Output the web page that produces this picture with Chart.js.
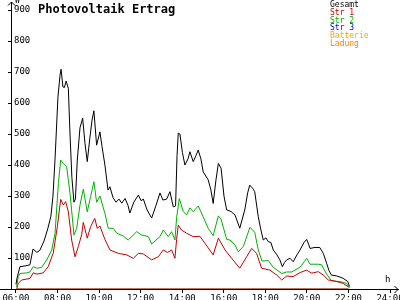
<!DOCTYPE html>
<html>
<head>
<meta charset="utf-8">
<script src="https://cdn.jsdelivr.net/npm/chart.js@4"></script>
<style>
  body { margin: 0; background: #fff; }
  #wrap { position: relative; width: 400px; height: 300px; overflow: hidden; }
  #wrap div { position: absolute; font-family: "DejaVu Sans Mono", monospace; white-space: nowrap; }
  #title { left: 38px; top: 2px; font-size: 12px; font-weight: bold; }
  #legend { left: 330px; top: 1px; font-size: 8px; line-height: 7.8px; }
  #unitW { left: 15px; top: -4px; font-size: 8px; }
  #unitH { left: 385px; top: 274px; font-size: 9px; }
</style>
</head>
<body>
<div id="wrap">
  <canvas id="pv" width="400" height="300"></canvas>
  <div id="title">Photovoltaik Ertrag</div>
  <div id="unitW">W</div>
  <div id="unitH">h</div>
  <div id="legend"></div>
</div>
<script>
// Uhrzeit in Stunden, Leistung in W
var gesamtTime = [6.00, 6.05, 6.19, 6.48, 6.67, 6.82, 7.01, 7.15, 7.35, 7.54, 7.68, 7.78, 7.88, 8.02, 8.12, 8.17, 8.26, 8.33, 8.41, 8.52,
  8.60, 8.69, 8.79, 8.86, 8.95, 9.08, 9.21, 9.32, 9.43, 9.56, 9.66, 9.75, 9.88, 10.04, 10.14, 10.28, 10.43, 10.52, 10.67, 10.81,
  10.96, 11.09, 11.25, 11.39, 11.48, 11.67, 11.89, 12.02, 12.13, 12.31, 12.53, 12.74, 12.93, 13.07, 13.25, 13.41, 13.57, 13.68, 13.75, 13.81,
  13.89, 14.01, 14.13, 14.28, 14.37, 14.53, 14.66, 14.77, 14.90, 15.01, 15.25, 15.38, 15.49, 15.62, 15.74, 15.87, 16.01, 16.14, 16.35, 16.54,
  16.77, 17.01, 17.15, 17.25, 17.39, 17.49, 17.66, 17.79, 17.90, 18.03, 18.14, 18.27, 18.38, 18.56, 18.70, 18.82, 18.92, 19.03, 19.19, 19.34,
  19.52, 19.67, 19.86, 19.99, 20.08, 20.15, 20.39, 20.62, 20.79, 20.95, 21.06, 21.18, 21.44, 21.73, 21.97, 22.05];
var gesamtW = [15, 35, 72, 75, 78, 129, 118, 125, 155, 197, 235, 300, 420, 620, 690, 709, 652, 650, 671, 647,
  500, 360, 280, 290, 416, 520, 551, 470, 411, 490, 545, 575, 464, 507, 460, 400, 319, 330, 295, 280,
  290, 277, 292, 270, 245, 280, 303, 285, 290, 255, 229, 270, 310, 287, 290, 314, 265, 268, 430, 503,
  500, 440, 400, 420, 443, 411, 430, 448, 420, 378, 352, 320, 276, 350, 405, 390, 300, 255, 250, 239,
  196, 255, 310, 335, 325, 314, 233, 190, 158, 165, 153, 150, 126, 110, 94, 72, 85, 94, 99, 88,
  110, 126, 150, 160, 145, 131, 134, 134, 115, 83, 60, 45, 42, 35, 24, 8];

var str1Time = [6.03, 6.11, 6.27, 6.67, 6.83, 7.00, 7.31, 7.55, 7.79, 7.99, 8.15, 8.28, 8.39, 8.52, 8.68, 8.84, 9.00, 9.16, 9.24, 9.43,
  9.59, 9.79, 9.91, 10.04, 10.28, 10.52, 10.92, 11.33, 11.65, 11.89, 12.13, 12.53, 12.85, 13.09, 13.29, 13.49, 13.65, 13.73, 13.81, 13.97,
  14.21, 14.53, 14.85, 15.10, 15.49, 15.74, 16.06, 16.38, 16.77, 17.10, 17.34, 17.58, 17.82, 18.22, 18.55, 18.79, 19.03, 19.34, 19.67, 19.99,
  20.23, 20.55, 20.79, 21.03, 21.27, 21.75, 21.99];
var str1W = [0, 18, 29, 34, 52, 48, 52, 72, 115, 201, 289, 271, 282, 249, 158, 104, 137, 175, 215, 164,
  201, 228, 196, 203, 160, 126, 115, 110, 99, 115, 113, 94, 104, 126, 118, 126, 99, 160, 206, 190,
  180, 169, 170, 147, 110, 164, 126, 99, 67, 104, 131, 115, 67, 61, 45, 29, 42, 40, 53, 61,
  51, 56, 45, 29, 27, 18, 7];

var str2Time = [6.03, 6.11, 6.19, 6.51, 6.67, 6.83, 7.00, 7.24, 7.48, 7.72, 7.88, 8.04, 8.15, 8.28, 8.44, 8.60, 8.79, 8.92, 9.08, 9.24,
  9.43, 9.59, 9.75, 9.88, 10.04, 10.28, 10.44, 10.68, 10.85, 11.16, 11.40, 11.81, 12.02, 12.37, 12.53, 12.93, 13.09, 13.33, 13.49, 13.65,
  13.73, 13.86, 14.05, 14.21, 14.37, 14.53, 14.77, 15.01, 15.25, 15.49, 15.74, 15.87, 16.14, 16.30, 16.54, 16.70, 16.94, 17.26, 17.49, 17.66,
  17.84, 18.14, 18.38, 18.79, 19.03, 19.27, 19.67, 19.99, 20.15, 20.55, 20.71, 20.95, 21.19, 21.59, 21.91, 22.05];
var str2W = [7, 40, 50, 52, 55, 72, 67, 70, 94, 126, 180, 341, 416, 405, 394, 309, 174, 196, 271, 322,
  249, 298, 346, 280, 300, 244, 196, 196, 180, 171, 158, 185, 175, 169, 145, 169, 190, 169, 185, 158,
  230, 292, 250, 239, 262, 249, 268, 233, 196, 172, 236, 225, 160, 158, 142, 120, 137, 199, 183, 126,
  90, 92, 70, 50, 55, 55, 70, 99, 80, 80, 78, 48, 26, 24, 18, 3];

// Str 3, Batterie und Ladung liefern heute nichts
var nullTime = [6, 22];
var str3W = [0, 0];
var batterieW = [0, 0];
var ladungW = [0, 0];

var xTicks = [6, 8, 10, 12, 14, 16, 18, 20, 22, 24];
var yTicks = [0, 100, 200, 300, 400, 500, 600, 700, 800, 900];

var seriesNames = ['Gesamt', 'Str 1', 'Str 2', 'Str 3', 'Batterie', 'Ladung'];
var seriesColors = ['#000000', '#c00000', '#00b000', '#0000ff', '#ffa500', '#ff8000'];

function points(t, w) {
    return t.map(function (h, i) { return {x: h, y: w[i]}; });
}

function pad2(n) { return (n < 10 ? '0' : '') + n; }

var seriesData = [
    points(gesamtTime, gesamtW),
    points(str1Time, str1W),
    points(str2Time, str2W),
    points(nullTime, str3W),
    points(nullTime, batterieW),
    points(nullTime, ladungW)
];
var drawOrder = [1, 2, 3, 4, 5, 0];

var datasets = seriesNames.map(function (name, i) {
    return {
        label: name,
        data: seriesData[i],
        borderColor: seriesColors[i],
        borderWidth: 1,
        pointRadius: 0,
        tension: 0,
        fill: false,
        order: drawOrder[i]
    };
});

// legend as coloured text
var legend = document.getElementById('legend');
seriesNames.forEach(function (name, i) {
    var row = document.createElement('span');
    row.style.display = 'block';
    row.style.position = 'static';
    row.style.color = seriesColors[i];
    row.textContent = name;
    legend.appendChild(row);
});

var arrows = {
    id: 'arrows',
    afterDraw: function (chart) {
        var ctx = chart.ctx, a = chart.chartArea;
        ctx.save();
        ctx.strokeStyle = '#000';
        ctx.lineWidth = 1;
        ctx.beginPath();
        // x axis runs on left of y axis
        ctx.moveTo(0, a.bottom + 0.5);
        ctx.lineTo(a.left, a.bottom + 0.5);
        // y arrow
        ctx.moveTo(a.left - 3, a.top + 3.5);
        ctx.lineTo(a.left + 0.5, a.top);
        ctx.lineTo(a.left + 4, a.top + 3.5);
        // x arrow
        ctx.moveTo(a.right - 3.5, a.bottom - 3);
        ctx.lineTo(a.right, a.bottom + 0.5);
        ctx.lineTo(a.right - 3.5, a.bottom + 4);
        ctx.stroke();
        ctx.restore();
    }
};

var tickFont = {family: 'DejaVu Sans Mono', size: 9};

new Chart(document.getElementById('pv'), {
    type: 'line',
    data: {datasets: datasets},
    options: {
        responsive: false,
        animation: false,
        layout: {padding: {left: 0, right: 2, top: 2, bottom: 0}},
        plugins: {
            legend: {display: false},
            tooltip: {enabled: false},
            title: {display: false}
        },
        scales: {
            x: {
                type: 'linear',
                min: 5.76,
                max: 24.385,
                afterBuildTicks: function (scale) {
                    scale.ticks = xTicks.map(function (v) { return {value: v}; });
                },
                afterFit: function (scale) {
                    scale.height = 11;
                    scale.paddingLeft = 0;
                    scale.paddingRight = 0;
                },
                ticks: {
                    autoSkip: false,
                    maxRotation: 0,
                    padding: 0,
                    color: '#000',
                    font: tickFont,
                    callback: function (v) { return pad2(v) + ':00'; }
                },
                grid: {drawOnChartArea: false, drawTicks: true, tickLength: 4, color: '#000'},
                border: {display: true, color: '#000', width: 1}
            },
            y: {
                min: 0,
                max: 926,
                afterBuildTicks: function (scale) {
                    scale.ticks = yTicks.map(function (v) { return {value: v}; });
                },
                afterFit: function (scale) {
                    scale.width = 11;
                    scale.paddingTop = 0;
                    scale.paddingBottom = 0;
                },
                ticks: {
                    mirror: true,
                    padding: 3,
                    color: '#000',
                    font: tickFont,
                    callback: function (v) { return v === 0 ? '' : v; }
                },
                grid: {drawOnChartArea: false, drawTicks: true, tickLength: 3, color: '#000'},
                border: {display: true, color: '#000', width: 1}
            }
        }
    },
    plugins: [arrows]
});
</script>
</body>
</html>
